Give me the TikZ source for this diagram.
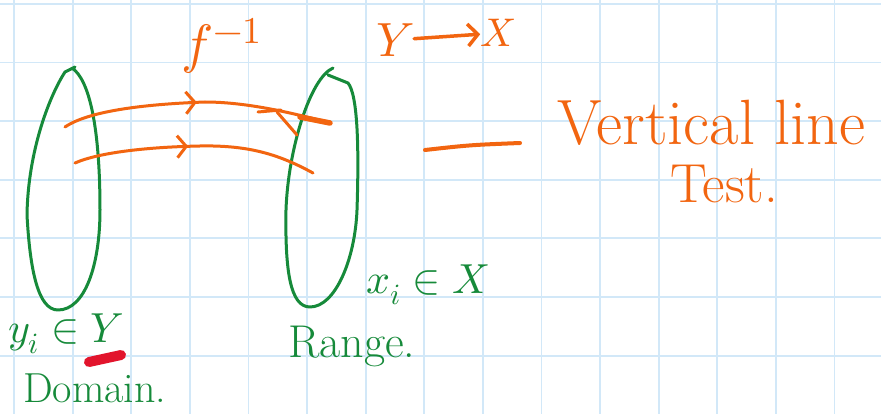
\documentclass[tikz,border=0pt]{standalone}
\usepackage{unicode-math}
\setmathfont{Latin Modern Math}
\usetikzlibrary{arrows.meta,decorations.markings}
\definecolor{gridblue}{HTML}{D2E8F8}
\definecolor{pen}{HTML}{F26510}
\definecolor{ink}{HTML}{168A3A}
\definecolor{hilite}{HTML}{E2142C}
\tikzset{
  gridline/.style={gridblue, line width=1.8pt},
  loopline/.style={ink, line width=3pt, line cap=round, line join=round},
  penline/.style={pen, line width=3pt, line cap=round, line join=round},
  midarrow/.style={postaction={decorate, decoration={markings,
      mark=at position #1 with {\arrow[pen, line width=3pt]{Straight Barb[length=9pt,width=22pt]}}}}},
  orangetext/.style={pen, inner sep=0pt},
  greentext/.style={ink, inner sep=0pt}
}
\begin{document}
\begin{tikzpicture}[x=1pt,y=-1pt]
\useasboundingbox (0,0) rectangle (881,414);
\fill[white] (0,0) rectangle (881,414);
% grid
\foreach \i in {0,...,14} \draw[gridline] (14+58.6*\i,0) -- (14+58.6*\i,414);
\foreach \j in {0,...,6} \draw[gridline] (0,4+58.6*\j) -- (881,4+58.6*\j);

% domain loop
\draw[loopline] (72,68) .. controls (90,80) and (100,130) .. (100,210)
  .. controls (100,265) and (85,310) .. (58,310)
  .. controls (38,310) and (30,270) .. (27,215)
  .. controls (28,150) and (50,95) .. (65,72) -- (75,67);
% range loop
\draw[loopline] (333,68) .. controls (310,78) and (288,150) .. (286,210)
  .. controls (285,270) and (290,307) .. (310,307)
  .. controls (335,307) and (355,260) .. (357,210)
  .. controls (359,150) and (358,95) .. (348,83) -- (328,75);

% mapping arrows
\coordinate (u1) at (65,127);
\coordinate (u2) at (330,123);
\coordinate (l1) at (75,163);
\coordinate (l2) at (313,173);
\draw[penline, midarrow=0.5] (u1) .. controls (90,110) and (150,104) .. (205,102)
   .. controls (250,102) and (300,115) .. (u2);
\draw[pen, line width=5.5pt, line cap=round] (300,117) -- (u2);
\draw[penline] (258,112) -- (281,110);
\draw[penline] (277,112) -- (297,135);
\draw[penline, midarrow=0.47] (l1) .. controls (100,152) and (150,147) .. (200,146)
   .. controls (250,145) and (280,155) .. (l2);

% labels top
\node[orangetext, font=\fontsize{54}{60}\selectfont] (finv) at (222,46) {$f^{-1}$};
\node[orangetext, font=\fontsize{48}{54}\selectfont] (Ylab) at (395,40) {$Y$};
\node[orangetext, font=\fontsize{40}{46}\selectfont] (Xlab) at (498,33) {$X$};
\draw[pen, line width=3.5pt, line cap=round, -{Straight Barb[length=10pt,width=22pt]}] (Ylab) -- (Xlab);

% vertical line test
\coordinate (d1) at (425,150);
\coordinate (d2) at (520,143);
\draw[pen, line width=4pt, line cap=round] (d1) .. controls (470,145) .. (d2);
\node[orangetext, font=\fontsize{64}{70}\selectfont, anchor=base west] (vlt) at (557,145) {Vertical line};
\node[orangetext, font=\fontsize{55}{60}\selectfont, anchor=base west] (test) at (670,203) {Test.};

% green labels
\node[greentext, font=\fontsize{42}{46}\selectfont] (xi) at (428,285) {$x_i \in X$};
\node[greentext, font=\fontsize{46}{50}\selectfont, anchor=base west] (rng) at (288,357) {Range.};
\draw[hilite, line width=10pt, line cap=round] (89,362) -- (121,355);
\node[greentext, font=\fontsize{42}{48}\selectfont] (yi) at (66,334) {$y_i \in Y$};
\node[greentext, font=\fontsize{42}{48}\selectfont, anchor=base west] (dom) at (23,402) {Domain.};
\end{tikzpicture}
\end{document}
